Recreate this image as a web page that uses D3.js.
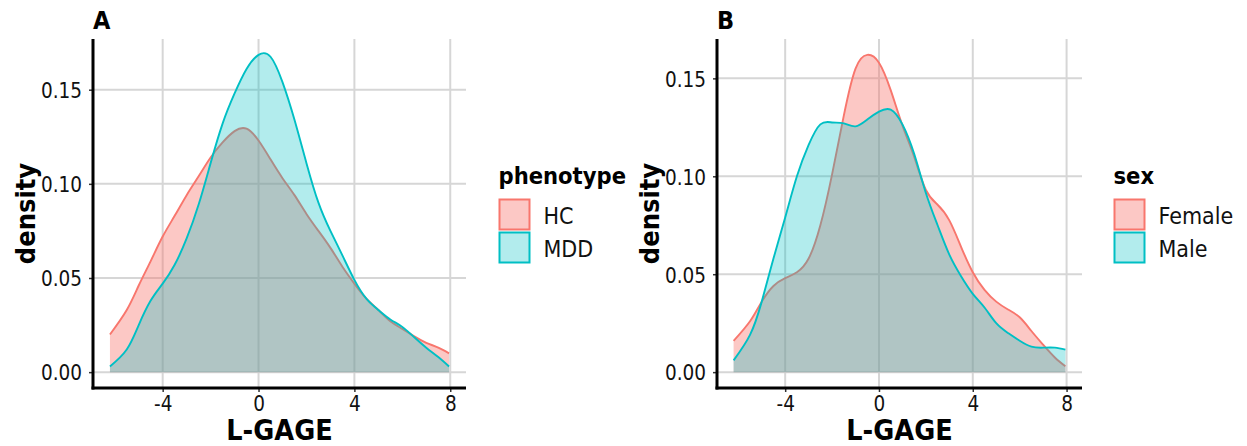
<!DOCTYPE html>
<html>
<head>
<meta charset="utf-8">
<script src="https://cdn.jsdelivr.net/npm/d3@7"></script>
<style>
  html, body { margin: 0; padding: 0; background: #fff; }
  svg { display: block; }
  text { font-family: "DejaVu Sans Condensed", "DejaVu Sans", sans-serif; font-stretch: condensed; }
</style>
</head>
<body>
<svg id="chart" width="1247" height="446"></svg>
<script>
// Grid of L-GAGE values at which the densities are evaluated
const lgage = [-6.2, -5.5, -5, -4.5, -4, -3.5, -3, -2.5, -2, -1.5, -1, -0.5, 0, 0.5, 1,
               1.5, 2, 2.5, 3, 3.5, 4, 4.5, 5, 5.5, 6, 6.5, 7, 7.5, 7.95];

// Panel A: density by phenotype
const densHC  = [0.020, 0.033, 0.046, 0.059, 0.072, 0.083, 0.094, 0.104, 0.114, 0.122, 0.128, 0.1293, 0.123, 0.113, 0.103,
                 0.094, 0.084, 0.075, 0.066, 0.056, 0.047, 0.039, 0.033, 0.027, 0.023, 0.019, 0.0156, 0.013, 0.010];
const densMDD = [0.003, 0.012, 0.025, 0.038, 0.047, 0.057, 0.071, 0.089, 0.111, 0.132, 0.148, 0.161, 0.1685, 0.1675, 0.154,
                 0.134, 0.111, 0.090, 0.075, 0.062, 0.049, 0.039, 0.033, 0.028, 0.024, 0.0185, 0.013, 0.008, 0.003];

// Panel B: density by sex
const densFemale = [0.016, 0.026, 0.036, 0.044, 0.048, 0.051, 0.058, 0.075, 0.101, 0.131, 0.155, 0.162, 0.158, 0.144, 0.126,
                    0.110, 0.093, 0.0855, 0.0775, 0.064, 0.051, 0.042, 0.036, 0.032, 0.028, 0.021, 0.014, 0.0075, 0.003];
const densMale   = [0.006, 0.019, 0.036, 0.058, 0.079, 0.100, 0.116, 0.1265, 0.1275, 0.127, 0.1255, 0.129, 0.133, 0.134, 0.1265,
                    0.1115, 0.0915, 0.075, 0.060, 0.049, 0.040, 0.033, 0.025, 0.020, 0.016, 0.013, 0.0125, 0.0125, 0.0115];

const xTicks = [-4, 0, 4, 8];
const yTicks = [0, 0.05, 0.10, 0.15];

const colors = ["#F8766D", "#00BFC4"];
const fillOpacity = [0.4, 0.3];

const panels = [
  { tag: "A", legendTitle: "phenotype", groups: ["HC", "MDD"], series: [densHC, densMDD],
    left: 93, right: 466, top: 39, bottom: 388, legendX: 498.5 },
  { tag: "B", legendTitle: "sex", groups: ["Female", "Male"], series: [densFemale, densMale],
    left: 717, right: 1082, top: 39, bottom: 388, legendX: 1113.5 }
];

const svg = d3.select("#chart");

// ggplot-style 5% expansion of a continuous range
function expand(lo, hi) {
  const pad = (hi - lo) * 0.05;
  return [lo - pad, hi + pad];
}

panels.forEach(p => {
  const g = svg.append("g");

  const x = d3.scaleLinear()
    .domain(expand(d3.min(lgage), d3.max(lgage)))
    .range([p.left, p.right]);
  const yMax = d3.max(p.series.flat());
  const y = d3.scaleLinear()
    .domain(expand(0, yMax))
    .range([p.bottom, p.top]);

  // major grid
  g.append("g").selectAll("line").data(yTicks).join("line")
    .attr("x1", p.left).attr("x2", p.right)
    .attr("y1", d => y(d)).attr("y2", d => y(d))
    .attr("stroke", "#d6d6d6").attr("stroke-width", 2);
  g.append("g").selectAll("line").data(xTicks).join("line")
    .attr("x1", d => x(d)).attr("x2", d => x(d))
    .attr("y1", p.top).attr("y2", p.bottom)
    .attr("stroke", "#d6d6d6").attr("stroke-width", 2);

  const curve = d3.curveNatural;
  const area = d3.area()
    .x((d, i) => x(lgage[i]))
    .y0(y(0))
    .y1(d => y(d))
    .curve(curve);
  const line = d3.line()
    .x((d, i) => x(lgage[i]))
    .y(d => y(d))
    .curve(curve);

  p.series.forEach((s, k) => {
    g.append("path").attr("d", area(s))
      .attr("fill", colors[k]).attr("fill-opacity", fillOpacity[k]).attr("stroke", "none");
    g.append("path").attr("d", line(s))
      .attr("fill", "none").attr("stroke", colors[k]).attr("stroke-width", 1.9);
  });

  // axes
  const yAxis = d3.axisLeft(y).tickValues(yTicks).tickFormat(d3.format(".2f")).tickSize(4).tickPadding(7);
  const xAxis = d3.axisBottom(x).tickValues(xTicks).tickFormat(d => d3.format("d")(d).replace("−", "-")).tickSize(4).tickPadding(4);

  const ya = g.append("g").attr("transform", `translate(${p.left},0)`).call(yAxis);
  ya.select(".domain").remove();
  ya.selectAll(".tick line").attr("stroke", "#333").attr("stroke-width", 1.5);
  ya.selectAll(".tick text").attr("font-size", 20.5).attr("fill", "#111")
    .attr("font-family", null).attr("dy", "0.38em");

  const xa = g.append("g").attr("transform", `translate(0,${p.bottom})`).call(xAxis);
  xa.select(".domain").remove();
  xa.selectAll(".tick line").attr("stroke", "#333").attr("stroke-width", 1.5);
  xa.selectAll(".tick text").attr("font-size", 20.5).attr("fill", "#111")
    .attr("font-family", null).attr("dy", "0.71em");

  // axis lines
  g.append("line").attr("x1", p.left).attr("x2", p.left).attr("y1", p.top).attr("y2", p.bottom + 1.5)
    .attr("stroke", "#000").attr("stroke-width", 3);
  g.append("line").attr("x1", p.left - 1.5).attr("x2", p.right).attr("y1", p.bottom).attr("y2", p.bottom)
    .attr("stroke", "#000").attr("stroke-width", 3);

  // axis titles
  g.append("text").attr("x", (p.left + p.right) / 2).attr("y", 440)
    .attr("text-anchor", "middle").attr("font-size", 28.5).attr("font-weight", "bold")
    .text("L-GAGE");
  g.append("text")
    .attr("transform", `translate(${p.left - 58},${(p.top + p.bottom) / 2}) rotate(-90)`)
    .attr("text-anchor", "middle").attr("font-size", 27).attr("font-weight", "bold")
    .text("density");

  // panel tag
  g.append("text").attr("x", p.left).attr("y", 28.5)
    .attr("font-size", 25).attr("font-weight", "bold").text(p.tag);

  // legend
  const lg = g.append("g");
  lg.append("text").attr("x", p.legendX).attr("y", 184)
    .attr("font-size", 23.5).attr("font-weight", "bold").text(p.legendTitle);
  p.groups.forEach((name, k) => {
    const top = 198.5 + k * 33;
    lg.append("rect").attr("x", p.legendX + 1).attr("y", top + 1)
      .attr("width", 30).attr("height", 30)
      .attr("fill", colors[k]).attr("fill-opacity", fillOpacity[k])
      .attr("stroke", colors[k]).attr("stroke-width", 2);
    lg.append("text").attr("x", p.legendX + 45).attr("y", top + 25)
      .attr("font-size", 23).attr("fill", "#111").text(name);
  });
});
</script>
</body>
</html>
